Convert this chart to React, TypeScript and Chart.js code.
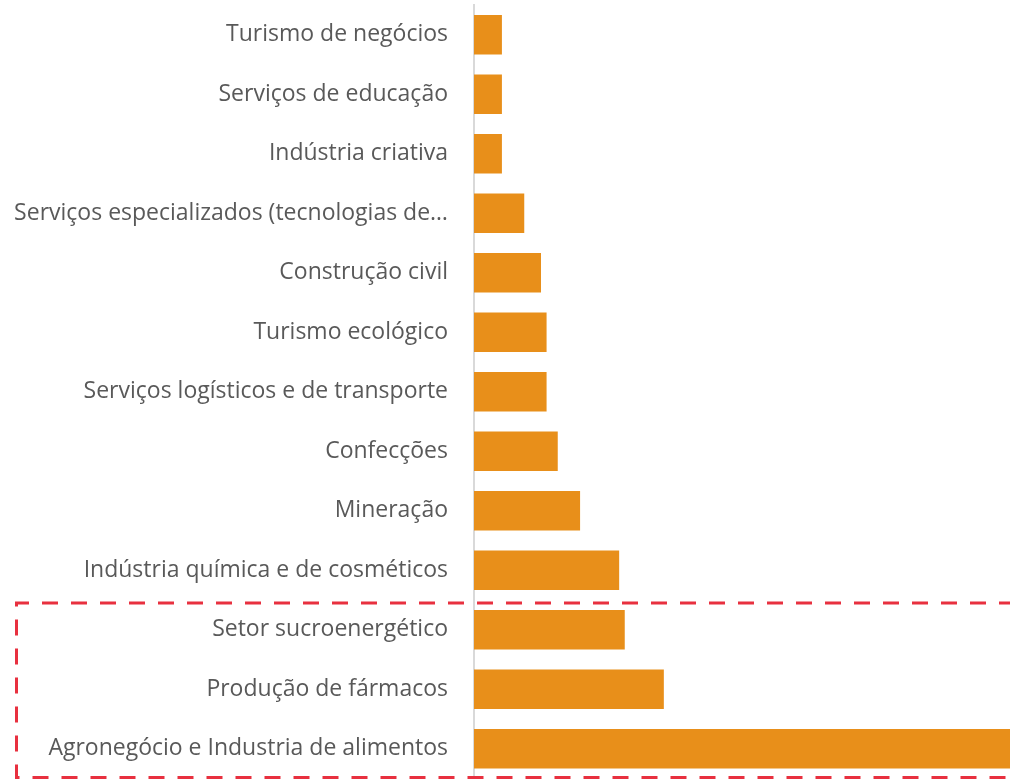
import React, { useEffect, useRef } from "react";
import { Chart, registerables } from "chart.js";

Chart.register(...registerables);

const categories: string[] = [
  "Turismo de negócios",
  "Serviços de educação",
  "Indústria criativa",
  "Serviços especializados (tecnologias de…",
  "Construção civil",
  "Turismo ecológico",
  "Serviços logísticos e de transporte",
  "Confecções",
  "Mineração",
  "Indústria química e de cosméticos",
  "Setor sucroenergético",
  "Produção de fármacos",
  "Agronegócio e Industria de alimentos",
];

const values: number[] = [5, 5, 5, 9, 12, 13, 13, 15, 19, 26, 27, 34, 96];

const axisMax = 96;
const highlightFrom = 10; // first highlighted category index
const highlightTo = 12; // last highlighted category index

export default function App() {
  const ref = useRef<HTMLCanvasElement>(null);

  useEffect(() => {
    if (!ref.current) return;

    const dashedBox = {
      id: "dashedBox",
      afterDraw(chart: any) {
        const y = chart.scales.y;
        const step = y.getPixelForValue(1) - y.getPixelForValue(0);
        const top = y.getPixelForValue(highlightFrom) - step / 2 + 3;
        const bottom = y.getPixelForValue(highlightTo) + step / 2 - 1;
        const ctx = chart.ctx;
        ctx.save();
        ctx.strokeStyle = "#E8303F";
        ctx.lineWidth = 3;
        ctx.setLineDash([16, 13]);
        ctx.beginPath();
        ctx.moveTo(chart.width + 5, top);
        ctx.lineTo(16.5, top);
        ctx.lineTo(16.5, bottom);
        ctx.lineTo(chart.width + 5, bottom);
        ctx.stroke();
        ctx.restore();
      },
    };

    const chart = new Chart(ref.current, {
      type: "bar",
      data: {
        labels: categories,
        datasets: [
          {
            data: values,
            backgroundColor: "#E88F1A",
            borderWidth: 0,
            barPercentage: 0.66,
            categoryPercentage: 1,
          },
        ],
      },
      options: {
        indexAxis: "y",
        responsive: true,
        maintainAspectRatio: false,
        animation: false,
        layout: { padding: { top: 5, bottom: 2.5, left: 0, right: 0 } },
        plugins: {
          legend: { display: false },
          tooltip: { enabled: false },
        },
        scales: {
          x: {
            display: false,
            min: 0,
            max: axisMax,
          },
          y: {
            grid: { display: false, drawTicks: false },
            border: { display: true, color: "#D9D9D9", width: 2 },
            ticks: {
              padding: 26,
              color: "#595959",
              font: { family: "'Open Sans', sans-serif", size: 23 },
            },
            afterFit(axis: any) {
              axis.width = 474;
              axis.paddingTop = 0;
              axis.paddingBottom = 0;
            },
          },
        },
      },
      plugins: [dashedBox],
    });

    return () => chart.destroy();
  }, []);

  return (
    <div style={{ position: "absolute", left: 0, top: 0, width: 1010, height: 781 }}>
      <canvas ref={ref} />
    </div>
  );
}
